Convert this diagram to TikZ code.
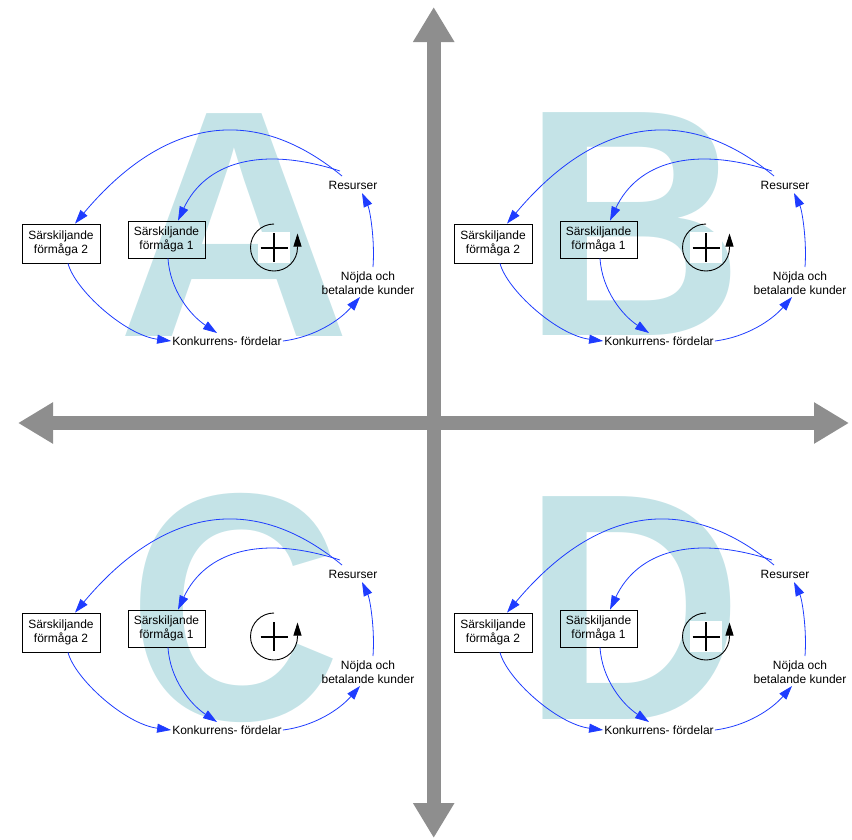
\documentclass[tikz,border=0pt]{standalone}
\usepackage{fontspec}
\setmainfont{Liberation Sans}
\usetikzlibrary{arrows.meta}
\definecolor{letterblue}{RGB}{196,227,231}
\definecolor{axisgray}{RGB}{142,142,142}
\definecolor{linkblue}{RGB}{30,60,255}
\begin{document}
\begin{tikzpicture}[x=1pt,y=-1pt,
  bigletter/.style={inner sep=0pt,anchor=base,text=letterblue,font=\fontsize{324}{324}\selectfont\bfseries},
  axis/.style={line width=14pt,draw=axisgray,{Triangle[length=35pt,width=39pt]}-{Triangle[length=35pt,width=39pt]}},
  box/.style={draw=black,line width=0.8pt,inner sep=1pt,align=center,font=\fontsize{12}{14}\selectfont},
  lbl/.style={inner sep=1pt,align=center,font=\fontsize{12}{14}\selectfont},
  link/.style={draw=linkblue,line width=0.8pt,-{Triangle[length=14pt,width=9pt]}},
  loopbg/.style={fill=white,minimum width=32pt,minimum height=31pt,inner sep=0pt},
  plusline/.style={line width=2pt,black},
  looparc/.style={line width=0.9pt,black,-{Triangle[length=13pt,width=8pt]}}
]
\useasboundingbox (0,0) rectangle (852,839);

% big background letters
\node[bigletter] (letA) at (234.5,336) {A};
\node[bigletter,xscale=0.95] (letB) at (633.5,335.5) {B};
\node[bigletter,xscale=0.91] (letC) at (234.5,719) {C};
\node[bigletter,xscale=0.945] (letD) at (633.5,719) {D};

% axes
\coordinate (axL) at (18,423);
\coordinate (axR) at (849,423);
\coordinate (axT) at (433.7,7);
\coordinate (axB) at (433.7,838);
\draw[axis] (axL) -- (axR);
\draw[axis] (axB) -- (axT);

% the four causal loop diagrams
\foreach \q/\dx/\dy in {A/0/0,B/432/0,C/0/389,D/432/389}{
\begin{scope}[shift={(\dx,\dy)}]
  \node[box,minimum width=78pt,minimum height=39pt] (sf2\q) at (61,243.5) {Särskiljande\\förmåga 2};
  \node[box,minimum width=77pt,minimum height=37pt] (sf1\q) at (166.5,239.5) {Särskiljande\\förmåga 1};
  \node[lbl] (res\q) at (353,185) {Resurser};
  \node[lbl] (noj\q) at (368,283) {Nöjda och\\betalande kunder};
  \node[lbl] (konk\q) at (227,341) {Konkurrens- fördelar};
  \node[loopbg] (loop\q) at (274,247.5) {};
  \draw[plusline] ([xshift=-13.5pt]loop\q.center) -- ([xshift=13.5pt]loop\q.center);
  \draw[plusline] ([yshift=14.5pt]loop\q.center) -- ([yshift=-14.5pt]loop\q.center);
  \draw[looparc] ([shift={(0,-23.5)}]loop\q.center) arc[start angle=270,end angle=0,radius=23.5] -- ++(0,-14);

  \draw[link] ([shift={(-11,-9)}]res\q.center) .. controls (240,92) and (150,134) .. ([xshift=14pt]sf2\q.north);
  \draw[link] ([shift={(-13,-14)}]res\q.center) .. controls (260,145) and (205,163) .. ([xshift=11.5pt]sf1\q.north);
  \draw[link] ([xshift=7pt]sf2\q.south) .. controls (75,290) and (125,335) .. (konk\q.west);
  \draw[link] ([xshift=1.5pt]sf1\q.south) .. controls (170,290) and (190,315) .. ([shift={(-10,-8)}]konk\q.center);
  \draw[link] (konk\q.east) .. controls (315,337) and (340,320) .. ([shift={(-8,14)}]noj\q.center);
  \draw[link] ([shift={(5,-16)}]noj\q.center) .. controls (375,240) and (370,210) .. ([shift={(9,8)}]res\q.center);
\end{scope}
}
\end{tikzpicture}
\end{document}
